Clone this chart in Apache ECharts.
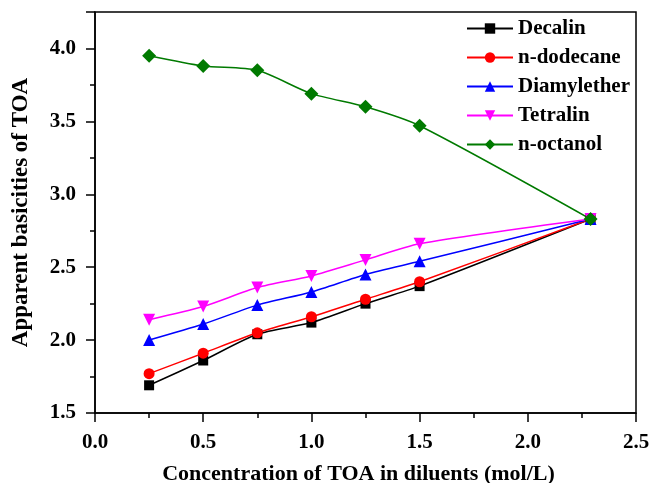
<!DOCTYPE html>
<html>
<head>
<meta charset="utf-8">
<script src="https://cdn.jsdelivr.net/npm/echarts@6/dist/echarts.min.js"></script>
<style>
  html, body { margin: 0; padding: 0; background: #fff; }
  #chart { width: 649px; height: 483px; }
</style>
</head>
<body>
<div id="chart"></div>
<script>
// TOA concentration (mol/L)
var conc = [0.25, 0.5, 0.75, 1.0, 1.25, 1.5, 2.29]

// apparent basicities per diluent
var decalin = [1.69, 1.86, 2.04, 2.12, 2.25, 2.37, 2.83]
var dodecane = [1.77, 1.91, 2.05, 2.16, 2.28, 2.40, 2.83]
var diamylether = [2.00, 2.11, 2.24, 2.33, 2.45, 2.54, 2.83]
var tetralin = [2.14, 2.23, 2.36, 2.44, 2.55, 2.66, 2.83]
var octanol = [3.95, 3.88, 3.85, 3.69, 3.60, 3.47, 2.83]

var font = 'Liberation Serif'

function pairs(ys) {
  return conc.map(function (x, i) { return [x, ys[i]] })
}

function line(name, ys, color, symbol, size) {
  return {
    name: name,
    type: 'line',
    data: pairs(ys),
    smooth: 0.25,
    symbol: symbol,
    symbolSize: size,
    showAllSymbol: true,
    lineStyle: { color: color, width: 1.5 },
    itemStyle: { color: color },
    emphasis: { disabled: true }
  }
}

var chart = echarts.init(document.getElementById('chart'))

chart.setOption({
  animation: false,
  backgroundColor: '#fff',
  grid: {
    left: 95,
    right: 13,
    top: 12,
    bottom: 70,
    outerBoundsMode: 'none',
    containLabel: false,
    show: true,
    borderColor: '#000',
    borderWidth: 1.5
  },
  legend: {
    orient: 'vertical',
    left: 461,
    top: 13,
    itemWidth: 46,
    itemHeight: 13,
    itemGap: 8,
    textStyle: {
      fontFamily: font,
      fontWeight: 'bold',
      fontSize: 21,
      lineHeight: 20,
      color: '#000'
    },
    data: ['Decalin', 'n-dodecane', 'Diamylether', 'Tetralin', 'n-octanol']
  },
  xAxis: {
    type: 'value',
    min: 0,
    max: 2.5,
    interval: 0.5,
    name: 'Concentration of TOA in diluents (mol/L)',
    nameLocation: 'middle',
    nameGap: 50,
    nameTextStyle: { fontFamily: font, fontWeight: 'bold', fontSize: 22, color: '#000', padding: [0, 14, 0, 0] },
    axisLine: { onZero: false, lineStyle: { color: '#000', width: 1.5 } },
    axisTick: { length: 9, lineStyle: { color: '#000', width: 1.5 } },
    minorTick: { show: true, splitNumber: 2, length: 5, lineStyle: { color: '#000', width: 1.5 } },
    axisLabel: {
      margin: 19,
      fontFamily: font,
      fontWeight: 'bold',
      fontSize: 21,
      color: '#000',
      formatter: function (v) { return v.toFixed(1) }
    },
    splitLine: { show: false }
  },
  yAxis: {
    type: 'value',
    min: 1.5,
    max: 4.25,
    interval: 0.5,
    name: 'Apparent basicities of TOA',
    nameLocation: 'middle',
    nameGap: 62,
    nameTextStyle: { fontFamily: font, fontWeight: 'bold', fontSize: 23, color: '#000' },
    axisLine: { onZero: false, lineStyle: { color: '#000', width: 1.5 } },
    axisTick: { length: 9, lineStyle: { color: '#000', width: 1.5 } },
    minorTick: { show: true, splitNumber: 2, length: 5, lineStyle: { color: '#000', width: 1.5 } },
    axisLabel: {
      margin: 19,
      fontFamily: font,
      fontWeight: 'bold',
      fontSize: 21,
      color: '#000',
      showMaxLabel: false,
      formatter: function (v) { return v.toFixed(1) }
    },
    splitLine: { show: false }
  },
  series: [
    line('Decalin', decalin, '#000000', 'rect', 10),
    line('n-dodecane', dodecane, '#ff0000', 'circle', 11),
    line('Diamylether', diamylether, '#0000ff', 'triangle', 12),
    line('Tetralin', tetralin, '#ff00ff', 'path://M0,0 L10,0 L5,9 Z', 12),
    line('n-octanol', octanol, '#007a00', 'diamond', 14)
  ]
})
</script>
</body>
</html>
